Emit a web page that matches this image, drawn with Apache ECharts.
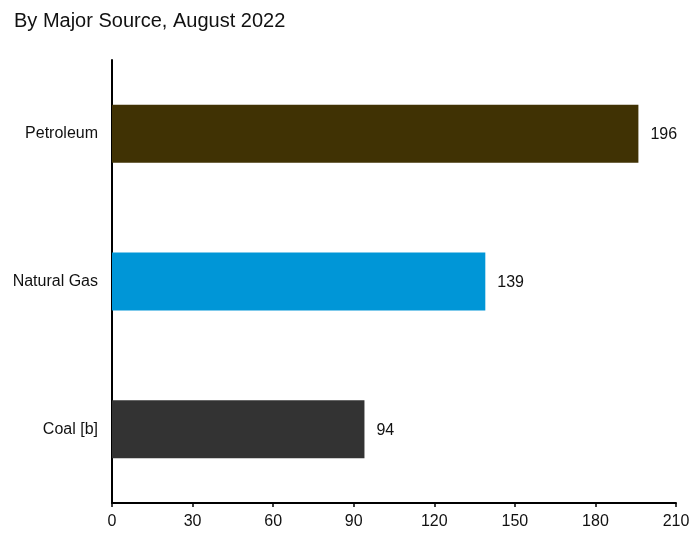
<!DOCTYPE html>
<html><head><meta charset="utf-8">
<script src="https://cdn.jsdelivr.net/npm/echarts@6/dist/echarts.min.js"></script>
<style>html,body{margin:0;padding:0;background:#fff}#c{width:700px;height:533px}</style>
</head><body><div id="c"></div>
<script>
const categories = ['Coal [b]', 'Natural Gas', 'Petroleum'];
const values = [94, 139, 196];
const colors = ['#333333', '#0096d7', '#403204'];
const xTicks = [0, 30, 60, 90, 120, 150, 180, 210];

const FONT = 'Liberation Sans, Arial, sans-serif';
const chart = echarts.init(document.getElementById('c'), null, {renderer: 'canvas'});
chart.setOption({
  animation: false,
  backgroundColor: '#fff',
  textStyle: {fontFamily: FONT},
  title: {
    text: 'By Major Source, August 2022',
    left: 9, top: 6,
    textStyle: {fontFamily: FONT, fontSize: 20, fontWeight: 'normal', color: '#111'}
  },
  grid: {left: 112, right: 24, top: 60, bottom: 30, containLabel: false},
  xAxis: {
    type: 'value', min: xTicks[0], max: xTicks[xTicks.length - 1], interval: 30,
    axisLine: {show: true, lineStyle: {color: '#000', width: 2}},
    axisTick: {show: true, length: 4, lineStyle: {color: '#000', width: 1.5}},
    axisLabel: {color: '#111', fontSize: 16, margin: 11, fontFamily: FONT},
    splitLine: {show: false}
  },
  yAxis: {
    type: 'category', data: categories,
    axisLine: {show: true, lineStyle: {color: '#000', width: 2}},
    axisTick: {show: false},
    axisLabel: {color: '#111', fontSize: 16, margin: 14, padding: [4, 0, 0, 0], fontFamily: FONT}
  },
  series: [{
    type: 'bar',
    barWidth: 58,
    data: values.map((v, i) => ({value: v, itemStyle: {color: colors[i]}})),
    label: {show: true, position: 'right', distance: 12, offset: [0, 1], color: '#111', fontSize: 16, fontFamily: FONT}
  }]
});
</script></body></html>
